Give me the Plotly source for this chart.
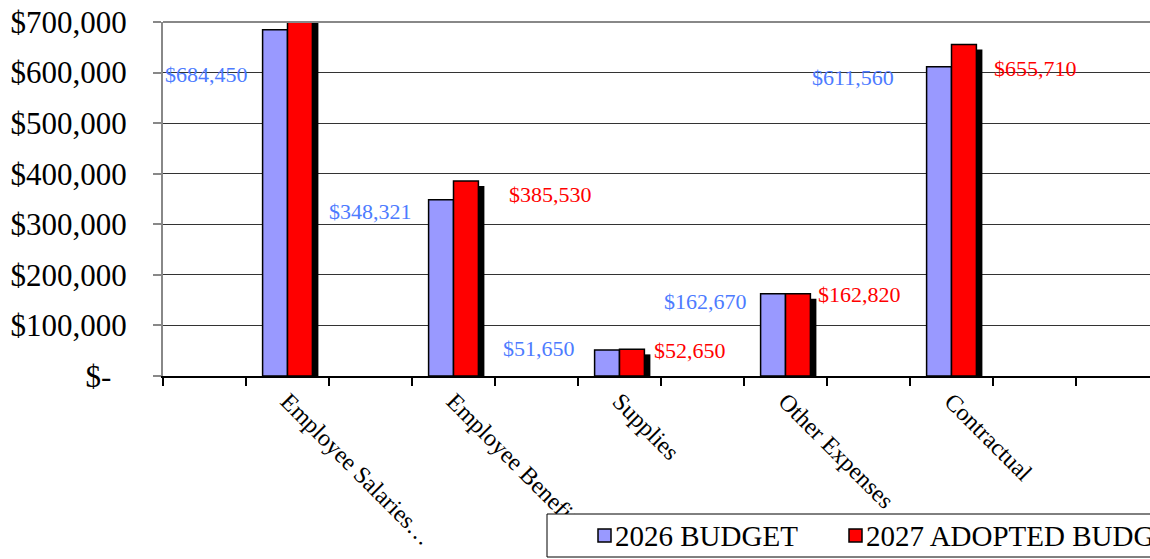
import plotly.graph_objects as go

# ---------------- data ----------------
categories = ["Employee Salaries…", "Employee Benefits", "Supplies", "Other Expenses", "Contractual"]
budget_2026 = [684450, 348321, 51650, 162670, 611560]
budget_2027 = [725000, 385530, 52650, 162820, 655710]
show_label_2027 = [False, True, True, True, True]
series_names = ["2026 BUDGET", "2027 ADOPTED BUDGET"]
y_tickvals = [0, 100000, 200000, 300000, 400000, 500000, 600000, 700000]
y_ticktext = ["$-\u00a0\u00a0", "$100,000", "$200,000", "$300,000", "$400,000", "$500,000", "$600,000", "$700,000"]

# ---------------- style ----------------
FONT = "Times New Roman, Liberation Serif, serif"
BLUE = "#9999FF"
RED = "#FF0000"
BLUE_TXT = "#4D7BFF"
W, H = 1150, 559
ML = 163
MT = 22
PLOT_BOTTOM = 376
MB = H - PLOT_BOTTOM
PLOT_W = W - ML
PLOT_H = PLOT_BOTTOM - MT
SLOT_PX = 83.0
YMAX = 700000

# axis slots: empty slots interleaved (as in the original spreadsheet chart)
slots = []
for i, c in enumerate(categories):
    slots.append(" " * (i + 1))
    slots.append(c)
slots += [" " * 7, " " * 8]

bar_w = 0.3
shadow_dx = 6 / SLOT_PX
shadow_dy = 5 * YMAX / PLOT_H

fig = go.Figure()
# shadow
fig.add_trace(go.Bar(
    x=categories, y=[v - shadow_dy for v in budget_2027],
    width=bar_w, offset=shadow_dx, marker=dict(color="black", line=dict(width=0)),
    showlegend=False, hoverinfo="skip"))
fig.add_trace(go.Bar(
    x=categories, y=budget_2026, name=series_names[0],
    width=bar_w, offset=-bar_w, marker=dict(color=BLUE, line=dict(color="black", width=1.5)),
    showlegend=False))
fig.add_trace(go.Bar(
    x=categories, y=budget_2027, name=series_names[1],
    width=bar_w, offset=0, marker=dict(color=RED, line=dict(color="black", width=1.5)),
    showlegend=False))

# data labels
blue_dx = [-38, -40, -43, -37, -56]
blue_dy = [-45, -12, 1, -8, -11]
red_dx = [40, 53, 32, 30, 40]
red_dy = [0, -13, -1, -1, -24]
ann = []
for i, c in enumerate(categories):
    ann.append(dict(x=c, y=budget_2026[i], xref="x", yref="y", text=f"${budget_2026[i]:,}",
                    showarrow=False, xanchor="right", yanchor="middle",
                    xshift=blue_dx[i], yshift=blue_dy[i],
                    font=dict(family=FONT, size=22, color=BLUE_TXT)))
    if show_label_2027[i]:
        ann.append(dict(x=c, y=budget_2027[i], xref="x", yref="y", text=f"${budget_2027[i]:,}",
                        showarrow=False, xanchor="left", yanchor="middle",
                        xshift=red_dx[i], yshift=red_dy[i],
                        font=dict(family=FONT, size=22, color=RED)))


def px(xp):
    return (xp - ML) / PLOT_W


def py(yp):
    return (PLOT_BOTTOM - yp) / PLOT_H


shapes = [
    # top border of plot
    dict(type="line", xref="paper", yref="paper", x0=0, x1=1, y0=1, y1=1,
         line=dict(color="#888888", width=2), layer="above"),
    # legend box
    dict(type="rect", xref="paper", yref="paper", x0=px(547), x1=px(1180), y0=py(557), y1=py(514),
         line=dict(color="black", width=1), fillcolor="white", layer="above"),
    dict(type="rect", xref="paper", yref="paper", x0=px(598), x1=px(611), y0=py(542), y1=py(529),
         line=dict(color="black", width=1.5), fillcolor=BLUE, layer="above"),
    dict(type="rect", xref="paper", yref="paper", x0=px(849), x1=px(862), y0=py(542), y1=py(529),
         line=dict(color="black", width=1.5), fillcolor=RED, layer="above"),
]
ann.append(dict(x=px(613), y=py(535.5), xref="paper", yref="paper", text=series_names[0],
                showarrow=False, xanchor="left", yanchor="middle",
                font=dict(family=FONT, size=29, color="black")))
ann.append(dict(x=px(864), y=py(535.5), xref="paper", yref="paper", text=series_names[1],
                showarrow=False, xanchor="left", yanchor="middle",
                font=dict(family=FONT, size=29, color="black")))

fig.update_layout(
    width=W, height=H,
    margin=dict(l=ML, r=0, t=MT, b=MB, autoexpand=False),
    paper_bgcolor="white", plot_bgcolor="white",
    barmode="overlay",
    shapes=shapes, annotations=ann,
    font=dict(family=FONT, color="black"),
)
fig.update_xaxes(
    type="category", categoryorder="array", categoryarray=slots,
    range=[-0.5, -0.5 + PLOT_W / SLOT_PX],
    tickson="boundaries", ticks="outside", ticklen=8, tickcolor="black", tickwidth=1.5,
    showline=True, linecolor="black", linewidth=1.5,
    showgrid=False, tickangle=45, tickfont=dict(family=FONT, size=24, color="black"),
)
fig.update_yaxes(
    range=[0, YMAX], tickvals=y_tickvals, ticktext=y_ticktext,
    ticks="outside", ticklen=8, tickcolor="#888888", tickwidth=1.5,
    showline=True, linecolor="#888888", linewidth=2,
    showgrid=True, gridcolor="#333333", gridwidth=1, zeroline=False,
    ticklabelstandoff=20, ticklabeloverflow="allow",
    tickfont=dict(family=FONT, size=31, color="black"),
)

fig.write_html("out.html", config={"displayModeBar": False},
               post_script="document.body.style.margin='0';")
